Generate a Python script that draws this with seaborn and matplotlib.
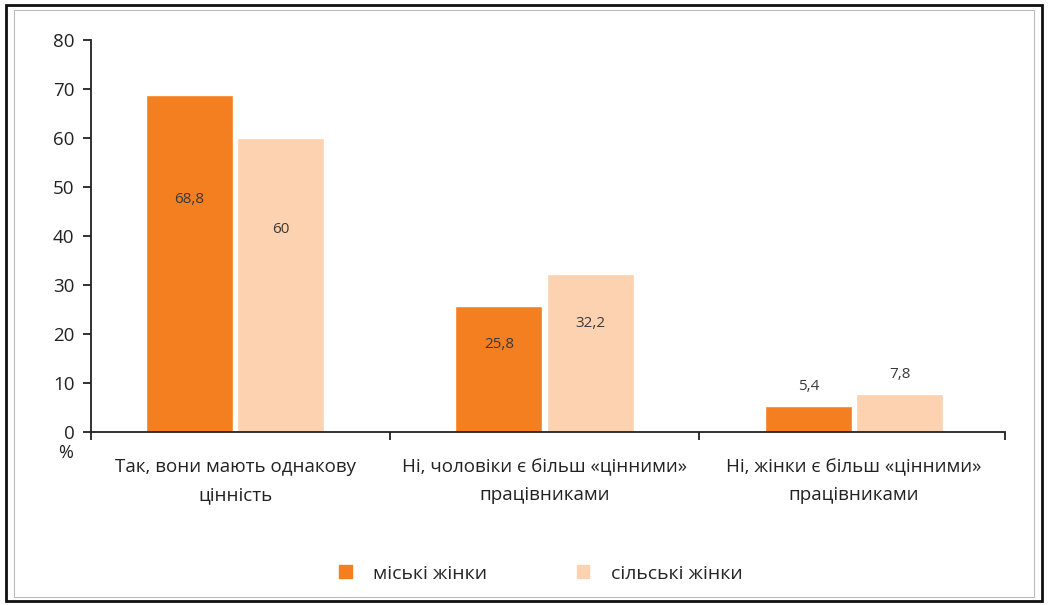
import matplotlib
matplotlib.use("Agg")
import matplotlib.pyplot as plt
import matplotlib.patches as mpatches
import seaborn as sns
import pandas as pd

categories = ["Так, вони мають однакову\nцінність",
              "Ні, чоловіки є більш «цінними»\nпрацівниками",
              "Ні, жінки є більш «цінними»\nпрацівниками"]
urban = [68.8, 25.8, 5.4]
rural = [60, 32.2, 7.8]
groups = ["міські жінки", "сільські жінки"]
colors = ["#F47F20", "#FCD2B0"]

df = pd.DataFrame({
    "cat": categories * 2,
    "group": [groups[0]] * 3 + [groups[1]] * 3,
    "val": urban + rural,
})

sns.set_style("white")
plt.rcParams["font.family"] = ["Open Sans", "DejaVu Sans"]

fig = plt.figure(figsize=(10.48, 6.05), dpi=100)
ax = fig.add_axes([0.087, 0.286, 0.872, 0.648])

sns.barplot(data=df, x="cat", y="val", hue="group", palette=colors,
            width=0.59, gap=0.045, saturation=1, ax=ax, legend=False)

# value labels
for bars, vals in zip(ax.containers, [urban, rural]):
    for b, v in zip(bars, vals):
        txt = f"{v:g}".replace(".", ",")
        cx = b.get_x() + b.get_width() / 2
        if v > 20:
            ax.text(cx, v * 0.69, txt, ha="center", va="center",
                    fontsize=11, color="#3a3a3a")
        else:
            ax.text(cx, v + 2.3, txt, ha="center", va="bottom",
                    fontsize=11, color="#3a3a3a")

ax.set_xlim(-0.465, 2.488)
ax.set_ylim(0, 80)
ax.set_yticks(range(0, 81, 10))
ax.set_xlabel("")
ax.set_ylabel("")

for s in ["top", "right"]:
    ax.spines[s].set_visible(False)
for s in ["left", "bottom"]:
    ax.spines[s].set_color("#222222")
    ax.spines[s].set_linewidth(1.3)

# category labels without ticks, tick marks at boundaries
ax.set_xticks([0, 1, 2])
ax.set_xticklabels(categories, fontsize=13.5, color="#222222",
                   linespacing=1.7)
ax.tick_params(axis="x", bottom=True, length=0, pad=19)
ax.set_xticks([-0.465, 0.5, 1.5, 2.488], minor=True)
ax.tick_params(axis="x", which="minor", bottom=True, length=6, width=1.3,
               color="#222222", direction="out")
ax.tick_params(axis="y", left=True, length=6, width=1.3, color="#222222",
               direction="out", labelsize=13.5, labelcolor="#222222", pad=6)

ax.text(-0.028, -0.03, "%", transform=ax.transAxes, ha="center", va="top",
        fontsize=13, color="#222222")

handles = [mpatches.Patch(color=c, label=g) for c, g in zip(colors, groups)]
fig.legend(handles=handles, loc="center", bbox_to_anchor=(0.516, 0.052),
           ncol=2, frameon=False, fontsize=14, handlelength=0.65,
           handleheight=0.65, columnspacing=4.6, handletextpad=1.1)

fig.patches.append(mpatches.Rectangle((0.006, 0.006), 0.988, 0.985,
                                      transform=fig.transFigure, fill=False,
                                      edgecolor="#111111", linewidth=2))
fig.patches.append(mpatches.Rectangle((0.013, 0.013), 0.974, 0.97,
                                      transform=fig.transFigure, fill=False,
                                      edgecolor="#bbbbbb", linewidth=0.8))

fig.savefig("out.png", dpi=100)
